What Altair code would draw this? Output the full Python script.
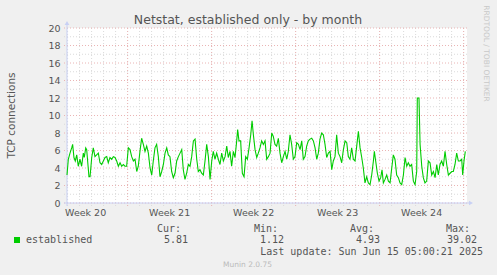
import altair as alt
import pandas as pd

# ---- data ----
days = [0.00, 0.11, 0.25, 0.39, 0.47, 0.58, 0.69, 0.81, 0.94, 1.08, 1.22, 1.36, 1.44, 1.56, 1.64, 1.72,
        1.83, 1.92, 2.06, 2.19, 2.33, 2.47, 2.61, 2.75, 2.89, 3.03, 3.17, 3.31, 3.44, 3.58, 3.72, 3.86,
        4.00, 4.14, 4.28, 4.42, 4.56, 4.69, 4.83, 4.97, 5.11, 5.25, 5.39, 5.53, 5.67, 5.81, 5.94, 6.08,
        6.22, 6.36, 6.50, 6.64, 6.78, 6.92, 7.06, 7.19, 7.33, 7.47, 7.61, 7.75, 7.89, 8.03, 8.17, 8.31,
        8.44, 8.58, 8.72, 8.86, 9.00, 9.14, 9.28, 9.42, 9.56, 9.69, 9.83, 9.97, 10.11, 10.25, 10.39,
        10.53, 10.67, 10.81, 10.94, 11.08, 11.22, 11.36, 11.50, 11.64, 11.78, 11.92, 12.06, 12.19,
        12.33, 12.47, 12.61, 12.75, 12.89, 13.03, 13.17, 13.31, 13.44, 13.58, 13.72, 13.86, 14.00,
        14.14, 14.22, 14.33, 14.47, 14.61, 14.75, 14.89, 15.03, 15.17, 15.31, 15.42, 15.53, 15.67,
        15.81, 15.94, 16.08, 16.22, 16.36, 16.50, 16.64, 16.78, 16.92, 17.06, 17.19, 17.33, 17.47,
        17.61, 17.75, 17.89, 18.03, 18.17, 18.31, 18.44, 18.58, 18.72, 18.86, 19.00, 19.14, 19.28,
        19.42, 19.56, 19.69, 19.83, 19.97, 20.11, 20.25, 20.39, 20.53, 20.67, 20.81, 20.94, 21.08,
        21.22, 21.36, 21.50, 21.64, 21.78, 21.92, 22.06, 22.19, 22.33, 22.47, 22.61, 22.75, 22.89,
        23.03, 23.17, 23.31, 23.44, 23.58, 23.72, 23.86, 24.00, 24.14, 24.28, 24.42, 24.56, 24.69,
        24.83, 24.97, 25.11, 25.25, 25.39, 25.53, 25.61, 25.72, 25.86, 26.00, 26.14, 26.25, 26.36,
        26.50, 26.64, 26.78, 26.92, 27.06, 27.19, 27.33, 27.47, 27.61, 27.75, 27.89, 28.03, 28.17,
        28.31, 28.44, 28.58, 28.72, 28.86, 29.00, 29.14, 29.19, 29.33, 29.42, 29.56, 29.69, 29.83,
        29.97, 30.11, 30.25, 30.39, 30.53, 30.67, 30.81, 30.94, 31.08, 31.22, 31.36, 31.50, 31.64,
        31.78, 31.92, 32.06, 32.19, 32.33, 32.47, 32.61, 32.75, 32.89, 32.97, 33.08, 33.19]
established = [3.2, 5.0, 5.7, 6.3, 6.7, 5.2, 4.8, 5.5, 4.2, 5.0, 4.2, 5.7, 5.2, 6.3, 6.1, 4.8,
               3.0, 3.0, 5.2, 6.3, 5.3, 5.5, 5.7, 4.6, 4.4, 4.8, 5.2, 5.3, 4.6, 5.2, 5.0, 5.3,
               5.2, 4.8, 4.2, 4.6, 4.2, 4.4, 4.2, 4.2, 6.3, 6.1, 5.3, 4.8, 5.0, 3.6, 4.2, 5.9,
               7.4, 6.7, 5.9, 6.5, 5.7, 4.0, 3.2, 4.8, 6.3, 6.7, 5.3, 3.0, 3.6, 4.4, 5.7, 6.3,
               5.5, 5.3, 3.6, 2.9, 3.4, 4.8, 5.3, 5.7, 6.1, 3.8, 2.7, 3.4, 4.4, 4.2, 5.3,
               7.1, 7.3, 5.0, 3.6, 3.8, 3.4, 3.2, 4.8, 6.7, 5.3, 2.7, 4.8, 5.9,
               5.0, 5.7, 5.0, 4.4, 5.7, 4.8, 5.3, 6.5, 5.2, 5.9, 4.2, 5.9, 5.2,
               7.1, 8.4, 7.1, 7.1, 3.4, 3.0, 5.3, 5.0, 6.3, 7.8, 9.4, 7.8, 6.1,
               5.2, 5.7, 6.3, 7.1, 6.7, 7.1, 5.0, 5.3, 5.7, 8.0, 7.6, 6.7, 6.5,
               7.4, 5.7, 4.6, 5.3, 5.9, 5.0, 5.9, 7.8, 6.7, 5.0, 5.3, 6.9, 6.7,
               6.1, 7.1, 5.0, 5.3, 6.5, 7.1, 7.3, 7.4, 7.1, 6.3, 5.0, 5.7, 7.3,
               8.0, 7.8, 6.7, 5.2, 5.7, 5.9, 3.8, 4.8, 5.3, 7.8, 5.7, 5.3, 4.6,
               6.1, 7.1, 6.9, 5.3, 5.0, 6.3, 5.0, 4.8, 6.5, 8.2, 6.3, 5.2, 4.0,
               2.3, 3.0, 2.3, 2.1, 3.2, 4.8, 5.9, 4.8, 3.4, 2.5, 2.9, 3.8, 2.3,
               2.7, 3.2, 2.5, 2.3, 4.0, 5.5, 5.0, 3.2, 2.9, 2.3, 2.1, 3.2, 5.2,
               4.2, 4.6, 4.2, 4.4, 2.5, 2.1, 3.6, 12.0, 12.0, 6.7, 4.2, 2.9, 2.3,
               2.5, 4.8, 4.6, 3.2, 3.6, 2.9, 4.4, 3.2, 4.4, 4.8, 4.2, 5.9, 4.4,
               3.2, 3.4, 3.6, 3.6, 4.4, 5.7, 4.8, 4.8, 5.0, 3.2, 4.8, 5.9]

week_labels = ["Week 20", "Week 21", "Week 22", "Week 23", "Week 24"]
week_centers = [1.55, 8.55, 15.55, 22.55, 29.55]
week_bounds = [5.05, 12.05, 19.05, 26.05, 33.05]
y_ticks = [0, 2, 4, 6, 8, 10, 12, 14, 16, 18, 20]

title_text = ["Netstat, established only - by month"]
y_title = ["TCP connections"]
side_text = ["RRDTOOL / TOBI OETIKER"]
series_name = ["established"]
stat_heads = ["Cur:", "Min:", "Avg:", "Max:"]
stat_values = ["5.81", "1.12", "4.93", "39.02"]
last_update = ["Last update: Sun Jun 15 05:00:21 2025"]
footer = ["Munin 2.0.75"]

GREEN = "#00CC00"
FONT = "DejaVu Sans"
MONO = "DejaVu Sans Mono"
TXT = "#555555"
W, H = 400, 175

xs = alt.Scale(domain=[0, 33.33], nice=False, zero=False)
ys = alt.Scale(domain=[0, 20], nice=False)
y_axis = alt.Axis(values=y_ticks, domain=False, ticks=False, grid=False, labelPadding=7,
                  labelFont=FONT, labelFontSize=9.5, labelColor=TXT, title=None)

line_df = pd.DataFrame({"day": days, "conn": established})
minor_v = pd.DataFrame({"day": [33.05 - k for k in range(34)]})
major_v = pd.DataFrame({"day": week_bounds})
minor_h = pd.DataFrame({"conn": [v + 1 for v in y_ticks[:-1]]})
major_h = pd.DataFrame({"conn": y_ticks})

X = lambda: alt.X("day:Q", scale=xs, axis=None)
Y = lambda: alt.Y("conn:Q", scale=ys, axis=y_axis)

MINOR = "#dadada"
MAJOR = "#eab4b4"

grid_minor_v = alt.Chart(minor_v).mark_rule(color=MINOR, strokeDash=[1, 2], strokeWidth=1).encode(
    x=X(), y=alt.value(0), y2=alt.value(H + 3))
grid_minor_h = alt.Chart(minor_h).mark_rule(color=MINOR, strokeDash=[1, 2], strokeWidth=1).encode(
    y=Y(), x=alt.value(-3), x2=alt.value(W))
grid_major_h = alt.Chart(major_h).mark_rule(color=MAJOR, strokeDash=[1, 2], strokeWidth=1).encode(
    y=Y(), x=alt.value(-3), x2=alt.value(W))
grid_major_v = alt.Chart(major_v).mark_rule(color=MAJOR, strokeDash=[1, 2], strokeWidth=1).encode(
    x=X(), y=alt.value(0), y2=alt.value(H + 3))

axis_df = pd.DataFrame({"a": [0]})
y_axis_line = alt.Chart(axis_df).mark_rule(color="#c8d0f4", strokeWidth=1).encode(
    x=alt.value(0), y=alt.value(-3), y2=alt.value(H + 3))
x_axis_line = alt.Chart(axis_df).mark_rule(color="#c8d0f4", strokeWidth=1).encode(
    y=alt.value(H), x=alt.value(-3), x2=alt.value(W + 3))
arrow_up = alt.Chart(axis_df).mark_point(shape="triangle-up", filled=True, color="#c8d0f4", size=22, opacity=1).encode(
    x=alt.value(0), y=alt.value(-5))
arrow_right = alt.Chart(axis_df).mark_point(shape="triangle-right", filled=True, color="#c8d0f4", size=22, opacity=1).encode(
    x=alt.value(W + 4), y=alt.value(H))

line = alt.Chart(line_df).mark_line(color=GREEN, strokeWidth=1.1, interpolate="linear").encode(
    x=X(), y=Y())

weeks = alt.Chart(pd.DataFrame({"day": week_centers, "lab": week_labels})).mark_text(
    font=FONT, fontSize=9.5, color=TXT, align="center", baseline="alphabetic").encode(
    x=X(), y=alt.value(H + 13), text="lab:N")


def txt(values, x, y, **kw):
    return alt.Chart(pd.DataFrame({"t": values})).mark_text(**kw).encode(
        text="t:N", x=alt.value(x), y=alt.value(y))


title = txt(title_text, 181, -4, font=FONT, fontSize=12.5, color=TXT, align="center", baseline="alphabetic")
ytitle = txt(y_title, -55, H / 2, font=FONT, fontSize=10.5, color=TXT, align="center", baseline="middle", angle=270)
side = txt(side_text, 419, 25.5, font=FONT, fontSize=7.5, color="#c8c8c8", align="center", baseline="middle", angle=90)

legend_sq = alt.Chart(axis_df).mark_square(color=GREEN, size=36, opacity=1).encode(
    x=alt.value(-50), y=alt.value(212))
legend_name = txt(series_name, -41, 215, font=MONO, fontSize=10, color=TXT, align="left", baseline="alphabetic")

head_x = [114, 211, 307, 403]
val_x = [121, 217, 313, 410]
stats = []
for i in range(4):
    stats.append(txt([stat_heads[i]], head_x[i], 204, font=MONO, fontSize=10, color=TXT, align="right", baseline="alphabetic"))
    stats.append(txt([stat_values[i]], val_x[i], 215, font=MONO, fontSize=10, color=TXT, align="right", baseline="alphabetic"))
upd = txt(last_update, 416, 227, font=MONO, fontSize=10, color=TXT, align="right", baseline="alphabetic")
foot = txt(footer, 180.5, 239, font=FONT, fontSize=7.5, color="#bbbbbb", align="center", baseline="alphabetic")

chart = alt.layer(
    grid_minor_h, grid_minor_v, grid_major_h, grid_major_v,
    y_axis_line, x_axis_line, arrow_up, arrow_right,
    line, weeks, title, ytitle, side, legend_sq, legend_name, *stats, upd, foot
).properties(
    width=W, height=H,
    autosize=alt.AutoSizeParams(type="none"),
    padding={"left": 67, "top": 28, "right": 30, "bottom": 72},
    background="#F0F0F0",
).configure_view(stroke=None, fill="white")

chart.save("out.html", embed_options={"renderer": "svg", "actions": False})
